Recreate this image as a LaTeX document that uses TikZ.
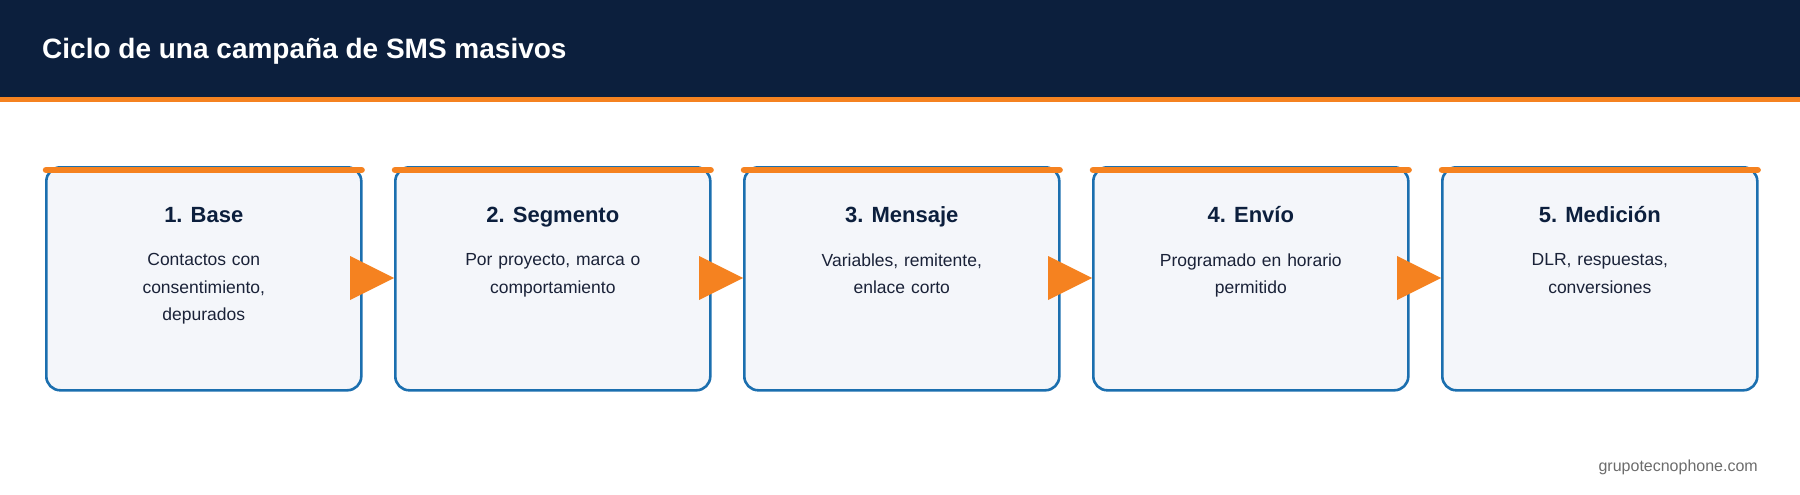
\documentclass[tikz,border=0pt]{standalone}
\usepackage{fontspec}
\setmainfont{Liberation Sans}
\definecolor{navy}{HTML}{0C1F3D}
\definecolor{orng}{HTML}{F58220}
\definecolor{bblue}{HTML}{1B6FAF}
\definecolor{bfill}{HTML}{F4F6FA}
\definecolor{txt}{HTML}{1A2238}
\begin{document}
\begin{tikzpicture}[x=1pt,y=-1pt,
  box/.style={draw=bblue,line width=2.6pt,fill=bfill,rounded corners=14pt,minimum width=315pt,minimum height=223pt,anchor=north west,inner sep=0pt},
  topbar/.style={orng,line width=6.5pt,line cap=round},
  head/.style={font=\fontsize{22}{26}\selectfont\bfseries,text=navy},
  body/.style={font=\fontsize{17.5}{27.5}\selectfont,text=txt,align=center,text width=260pt},
  arr/.style={fill=orng}]
\useasboundingbox (0,0) rectangle (1800,495);
\fill[navy] (0,0) rectangle (1800,97);
\fill[orng] (0,97) rectangle (1800,102);
\node[anchor=base west,text=white,font=\fontsize{28}{32}\selectfont\bfseries,inner sep=0pt] (title) at (42,59) {Ciclo de una campaña de SMS masivos};
\foreach \i/\h/\b in {0/{1. Base}/{Contactos con\\consentimiento,\\depurados},
  1/{2. Segmento}/{Por proyecto, marca o\\comportamiento},
  2/{3. Mensaje}/{Variables, remitente,\\enlace corto},
  3/{4. Envío}/{Programado en horario\\permitido},
  4/{5. Medición}/{DLR, respuestas,\\conversiones}}{
  \pgfmathsetmacro{\x}{45+349*\i}
  \node[box] (b\i) at (\x,166) {};
  \draw[topbar] ([xshift=1pt,yshift=-4pt]b\i.north west) -- ([xshift=-1pt,yshift=-4pt]b\i.north east);
  \node[head,anchor=base,inner sep=0pt] (h\i) at ([yshift=-56pt]b\i.north) {\h};
  \node[body,anchor=north] (t\i) at ([yshift=-84pt]b\i.north) {\b};
}
\foreach \i/\j in {0/1,1/2,2/3,3/4}{
  \coordinate (tip\i) at ([yshift=-112pt]b\j.north west);
  \fill[arr] (tip\i) -- ++(-44,-22) -- ++(0,44) -- cycle;
}
\node[anchor=base east,text=gray!85!black,font=\fontsize{16}{20}\selectfont,inner sep=0pt] (foot) at (1758,471) {grupotecnophone.com};
\end{tikzpicture}
\end{document}
